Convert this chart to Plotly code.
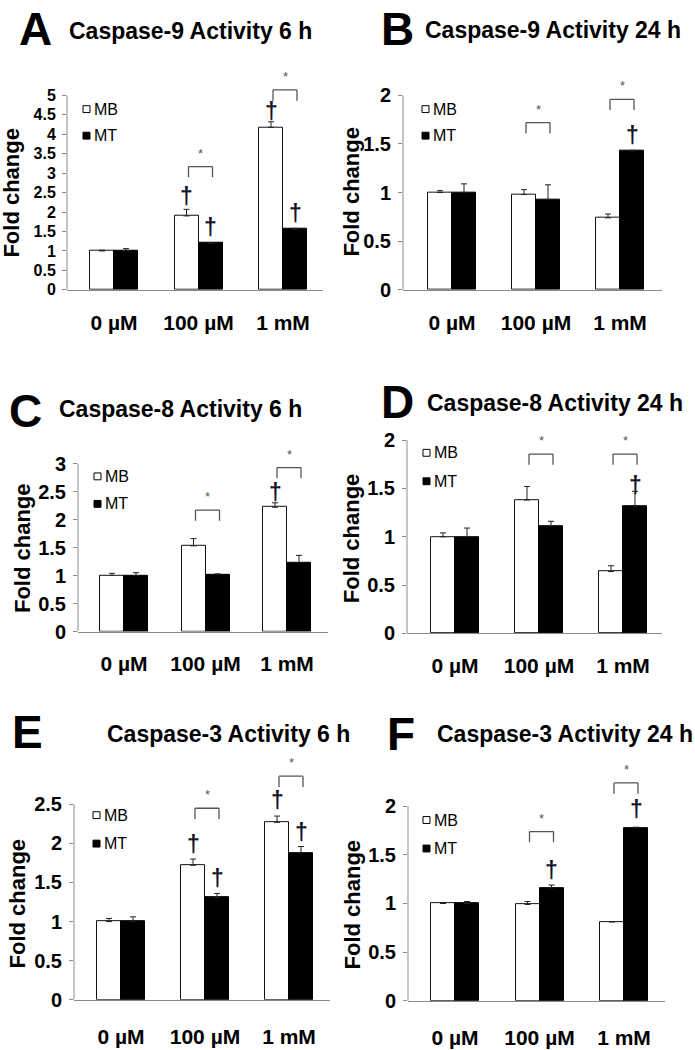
import plotly.graph_objects as go

# ---------------- data ----------------
categories = ["0 µM", "100 µM", "1 mM"]
series_names = ["MB", "MT"]

titles = {
    "A": "Caspase-9 Activity 6 h",
    "B": "Caspase-9 Activity 24 h",
    "C": "Caspase-8 Activity 6 h",
    "D": "Caspase-8 Activity 24 h",
    "E": "Caspase-3 Activity 6 h",
    "F": "Caspase-3 Activity 24 h",
}
y_title = "Fold change"
y_top_tick = {"A": 5, "B": 2, "C": 3, "D": 2, "E": 2.5, "F": 2}

mb_A = [1.00, 1.90, 4.18]
mb_A_err = [0.02, 0.17, 0.14]
mt_A = [1.00, 1.20, 1.56]
mt_A_err = [0.06, 0.01, 0.02]

mb_B = [1.00, 0.98, 0.74]
mb_B_err = [0.02, 0.05, 0.04]
mt_B = [1.00, 0.93, 1.43]
mt_B_err = [0.09, 0.15, 0.005]

mb_C = [1.00, 1.53, 2.22]
mb_C_err = [0.04, 0.13, 0.08]
mt_C = [1.00, 1.02, 1.23]
mt_C_err = [0.05, 0.01, 0.13]

mb_D = [1.00, 1.38, 0.64]
mb_D_err = [0.04, 0.14, 0.06]
mt_D = [1.00, 1.11, 1.32]
mt_D_err = [0.09, 0.05, 0.15]

mb_E = [1.00, 1.72, 2.27]
mb_E_err = [0.04, 0.08, 0.08]
mt_E = [1.00, 1.31, 1.88]
mt_E_err = [0.06, 0.05, 0.08]

mb_F = [1.00, 0.99, 0.81]
mb_F_err = [0.01, 0.03, 0.003]
mt_F = [1.00, 1.16, 1.78]
mt_F_err = [0.02, 0.03, 0.005]

# significance brackets: (category index, bracket top value)
brackets_A = [(1, 3.17), (2, 5.14)]
brackets_B = [(1, 1.72), (2, 1.96)]
brackets_C = [(1, 2.17), (2, 2.93)]
brackets_D = [(1, 1.855), (2, 1.855)]
brackets_E = [(1, 2.45), (2, 2.86)]
brackets_F = [(1, 1.74), (2, 2.24)]

# daggers: (category index, series, value of dagger centre)
daggers_A = [(1, "MB", 2.41), (1, "MT", 1.62), (2, "MB", 4.60), (2, "MT", 1.98)]
daggers_B = [(2, "MT", 1.59)]
daggers_C = [(2, "MB", 2.49)]
daggers_D = [(2, "MT", 1.54)]
daggers_E = [(1, "MB", 1.99), (1, "MT", 1.56), (2, "MB", 2.55), (2, "MT", 2.14)]
daggers_F = [(1, "MT", 1.34), (2, "MT", 1.97)]

DATA = {
    "A": (mb_A, mb_A_err, mt_A, mt_A_err, brackets_A, daggers_A),
    "B": (mb_B, mb_B_err, mt_B, mt_B_err, brackets_B, daggers_B),
    "C": (mb_C, mb_C_err, mt_C, mt_C_err, brackets_C, daggers_C),
    "D": (mb_D, mb_D_err, mt_D, mt_D_err, brackets_D, daggers_D),
    "E": (mb_E, mb_E_err, mt_E, mt_E_err, brackets_E, daggers_E),
    "F": (mb_F, mb_F_err, mt_F, mt_F_err, brackets_F, daggers_F),
}

# ---------------- layout (pixels) ----------------
W, H = 695, 1050
GEOM = {
    "A": dict(L=67, R=323, c0=114, s=84.5, y0=287, yT=89, ymax=5.3, yfont=16,
              title=(191, 23), letter=(35, 21), ytitle=(12, 188), leg=(83, 103, 130), stand=14),
    "B": dict(L=403, R=662, c0=452, s=84, y0=287, yT=89, ymax=2.1, yfont=20,
              title=(553, 22), letter=(397, 21), ytitle=(352, 187), leg=(422, 103, 130), stand=14),
    "C": dict(L=78, R=328, c0=124, s=81.5, y0=635, yT=464, ymax=3.05, yfont=20,
              title=(180, 408), letter=(25, 410), ytitle=(22, 550), leg=(94, 477, 505), stand=13),
    "D": dict(L=407, R=662, c0=455, s=84, y0=637, yT=440, ymax=2.05, yfont=20,
              title=(555, 402), letter=(397, 401), ytitle=(351, 540), leg=(423, 453, 482), stand=13),
    "E": dict(L=74, R=330, c0=121, s=84, y0=1010, yT=811, ymax=2.95, yfont=20,
              title=(228, 739), letter=(28, 737), ytitle=(17, 912), leg=(93, 822, 851), stand=18),
    "F": dict(L=408, R=665, c0=455, s=84.5, y0=1011, yT=813, ymax=2.3, yfont=20,
              title=(565, 739), letter=(401, 739), ytitle=(352, 913), leg=(423, 827, 856), stand=18),
}
BAR_PX = 24
AXIS_COLOR = "#8a8a8a"
BRACKET_COLOR = "#555555"
FONT = "Liberation Sans, Arial, sans-serif"


def px(x):
    return x / W


def py(y):
    return 1 - y / H


fig = go.Figure()
annotations = []
shapes = []

for i, key in enumerate(["A", "B", "C", "D", "E", "F"]):
    g = GEOM[key]
    mb, mb_err, mt, mt_err, brackets, daggers = DATA[key]
    T = y_top_tick[key]
    n = "" if i == 0 else str(i + 1)
    xa, ya = "x" + n, "y" + n
    w = BAR_PX / g["s"]
    unit = (g["y0"] - g["yT"]) / T  # px per data unit

    fig.add_trace(go.Bar(
        x=categories, y=mb, name=series_names[0], xaxis=xa, yaxis=ya,
        width=w, offset=-w, showlegend=False,
        marker=dict(color="white", line=dict(color="#111111", width=1)),
        error_y=dict(type="data", array=mb_err, arrayminus=[0] * 3, symmetric=False,
                     color="#222222", thickness=1, width=3),
    ))
    fig.add_trace(go.Bar(
        x=categories, y=mt, name=series_names[1], xaxis=xa, yaxis=ya,
        width=w, offset=0, showlegend=False,
        marker=dict(color="black", line=dict(color="black", width=1)),
        error_y=dict(type="data", array=mt_err, arrayminus=[0] * 3, symmetric=False,
                     color="#222222", thickness=1, width=3),
    ))

    xr = [(g["L"] - g["c0"]) / g["s"], (g["R"] - g["c0"]) / g["s"]]
    top_px = g["y0"] - unit * g["ymax"]
    ticks = [k * 0.5 for k in range(int(round(T / 0.5)) + 1)]
    fig.layout["xaxis" + n] = dict(
        domain=[px(g["L"]), px(g["R"])], range=xr, anchor=ya,
        showline=True, linecolor=AXIS_COLOR, linewidth=1, ticks="",
        showgrid=False, zeroline=False, fixedrange=True,
        tickfont=dict(family=FONT, size=21, color="black", weight="bold"),
        ticklabelstandoff=g["stand"],
    )
    fig.layout["yaxis" + n] = dict(
        domain=[py(g["y0"]), py(top_px)], range=[0, g["ymax"]], anchor=xa,
        showline=False, showgrid=False, zeroline=False, fixedrange=True,
        tickvals=ticks, ticktext=[f"{t:g}" for t in ticks],
        ticks="outside", ticklen=4, tickcolor=AXIS_COLOR, tickwidth=1,
        tickfont=dict(family=FONT, size=g["yfont"], color="black", weight="bold"),
        ticklabelstandoff=3,
    )
    shapes.append(dict(type="line", xref=xa + " domain", yref=ya, x0=0, x1=0, y0=0, y1=T,
                       line=dict(color=AXIS_COLOR, width=1)))

    left_off, right_off, leg_px = -10 / g["s"], 14 / g["s"], 11
    for cat, top in brackets:
        x0, x1 = cat + left_off, cat + right_off
        yl = top - leg_px / unit
        for (a, b, c, d) in [(x0, yl, x0, top), (x0, top, x1, top), (x1, top, x1, yl)]:
            shapes.append(dict(type="line", xref=xa, yref=ya, x0=a, y0=b, x1=c, y1=d,
                               line=dict(color=BRACKET_COLOR, width=1.3)))
        annotations.append(dict(x=(x0 + x1) / 2, y=top, xref=xa, yref=ya, text="*",
                                showarrow=False, yanchor="bottom", yshift=4,
                                font=dict(family=FONT, size=13, color="#555555")))

    for cat, ser, val in daggers:
        xc = cat - w / 2 if ser == "MB" else cat + w / 2
        annotations.append(dict(x=xc, y=val, xref=xa, yref=ya, text="†",
                                showarrow=False, yanchor="middle", xanchor="center",
                                font=dict(family=FONT, size=23, color="#15152a", weight="bold")))

    tx, ty = g["title"]
    annotations.append(dict(x=px(tx), y=py(ty), xref="paper", yref="paper", text=titles[key],
                            showarrow=False, xanchor="center", yanchor="middle",
                            font=dict(family=FONT, size=23, color="black", weight="bold")))
    lx, ly = g["letter"]
    annotations.append(dict(x=px(lx), y=py(ly), xref="paper", yref="paper", text=key,
                            showarrow=False, xanchor="center", yanchor="middle",
                            font=dict(family=FONT, size=46, color="black", weight="bold")))
    yx, yy = g["ytitle"]
    annotations.append(dict(x=px(yx), y=py(yy), xref="paper", yref="paper", text=y_title,
                            showarrow=False, xanchor="center", yanchor="middle", textangle=-90,
                            font=dict(family=FONT, size=22, color="black", weight="bold")))

    lgx, mby, mty = g["leg"]
    for ser, yc, fill in [("MB", mby, "white"), ("MT", mty, "black")]:
        shapes.append(dict(type="rect", xref="paper", yref="paper",
                           x0=px(lgx), x1=px(lgx + 7), y0=py(yc + 3.5), y1=py(yc - 3.5),
                           fillcolor=fill, line=dict(color="black", width=1)))
        annotations.append(dict(x=px(lgx + 9), y=py(yc), xref="paper", yref="paper", text=ser,
                                showarrow=False, xanchor="left", yanchor="middle",
                                font=dict(family=FONT, size=16, color="black")))

fig.update_layout(
    width=W, height=H,
    margin=dict(l=0, r=0, t=0, b=0),
    paper_bgcolor="white", plot_bgcolor="white",
    barmode="group", bargap=0, bargroupgap=0,
    showlegend=False,
    annotations=annotations, shapes=shapes,
)

fig.write_html("out.html", config={"displayModeBar": False},
               post_script="document.body.style.margin='0px';")
